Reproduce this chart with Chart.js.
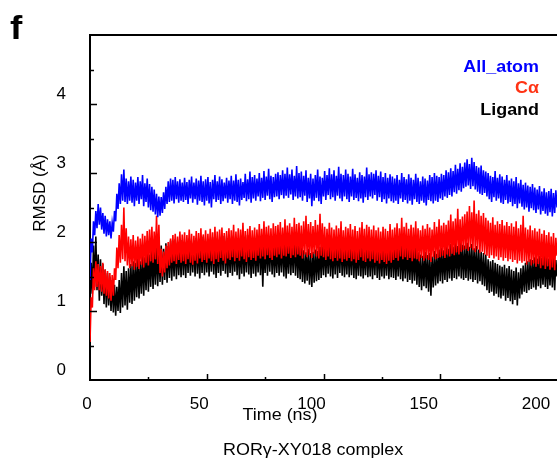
<!DOCTYPE html>
<html>
<head>
<meta charset="utf-8">
<title>RMSD - RORγ-XY018 complex</title>
<script src="https://cdn.jsdelivr.net/npm/chart.js@4/dist/chart.umd.min.js"></script>
<style>
  html, body { margin: 0; padding: 0; background: #fff; overflow: hidden; }
  canvas { display: block; }
</style>
</head>
<body>
<canvas id="rmsd" width="557" height="462"></canvas>
<script>
// one stored frame every 0.5 ns, 0 .. 200 ns
const TIME_STEP = 0.5;
const xTicks = [0, 50, 100, 150, 200];
const yTicks = [0, 1, 2, 3, 4];
const seriesNames = ["All_atom", "Cα", "Ligand"];

const allAtom = [
  1.45, 2.05, 1.85, 2.30, 2.10, 2.45, 2.20, 2.55, 2.25, 2.50, 2.18, 2.42, 2.12, 2.38, 2.08, 2.33, 2.10, 2.30, 2.05, 2.28,
  2.15, 2.45, 2.30, 2.70, 2.48, 2.85, 2.55, 2.98, 2.60, 3.05, 2.58, 2.92, 2.55, 2.88, 2.60, 2.95, 2.57, 2.90, 2.52, 2.86,
  2.60, 2.94, 2.55, 2.88, 2.62, 2.97, 2.52, 2.85, 2.58, 2.92, 2.50, 2.84, 2.46, 2.80, 2.44, 2.76, 2.40, 2.70, 2.36, 2.66,
  2.38, 2.65, 2.42, 2.72, 2.48, 2.80, 2.55, 2.88, 2.58, 2.92, 2.60, 2.90, 2.56, 2.94, 2.62, 2.88, 2.57, 2.91, 2.60, 2.86,
  2.58, 2.93, 2.61, 2.87, 2.55, 2.90, 2.63, 2.95, 2.57, 2.86, 2.62, 2.92, 2.54, 2.89, 2.60, 2.96, 2.58, 2.88, 2.53, 2.91,
  2.60, 2.94, 2.56, 2.87, 2.50, 2.90, 2.62, 2.97, 2.58, 2.88, 2.61, 2.95, 2.55, 2.91, 2.59, 2.86, 2.63, 2.93, 2.57, 2.89,
  2.62, 2.96, 2.55, 2.89, 2.60, 2.98, 2.58, 2.90, 2.53, 2.92, 2.61, 2.87, 2.64, 2.99, 2.59, 2.91, 2.62, 3.02, 2.57, 2.94,
  2.63, 2.97, 2.60, 2.92, 2.66, 3.00, 2.59, 2.93, 2.64, 3.03, 2.61, 2.95, 2.67, 3.06, 2.62, 2.96, 2.58, 2.94, 2.65, 2.99,
  2.66, 3.01, 2.62, 2.97, 2.68, 3.04, 2.63, 2.99, 2.67, 3.08, 2.64, 2.98, 2.69, 3.05, 2.61, 2.96, 2.66, 3.10, 2.63, 3.00,
  2.65, 3.02, 2.60, 2.96, 2.67, 3.04, 2.58, 2.93, 2.63, 2.99, 2.52, 2.92, 2.60, 2.97, 2.64, 3.05, 2.59, 2.95, 2.55, 2.93,
  2.66, 3.03, 2.61, 2.97, 2.68, 3.07, 2.62, 2.98, 2.65, 3.04, 2.60, 2.96, 2.67, 3.09, 2.63, 2.99, 2.59, 2.97, 2.66, 3.05,
  2.62, 2.99, 2.58, 2.95, 2.66, 3.06, 2.61, 2.98, 2.64, 2.93, 2.59, 3.01, 2.63, 2.97, 2.57, 2.95, 2.65, 3.08, 2.61, 2.98,
  2.66, 3.01, 2.63, 2.99, 2.68, 3.04, 2.60, 2.96, 2.65, 3.02, 2.58, 2.94, 2.62, 3.00, 2.56, 2.93, 2.63, 2.98, 2.59, 2.95,
  2.57, 2.92, 2.60, 2.97, 2.55, 2.90, 2.63, 3.00, 2.58, 2.94, 2.61, 2.91, 2.56, 2.98, 2.60, 2.93, 2.54, 2.90, 2.62, 2.99,
  2.58, 2.93, 2.55, 2.88, 2.60, 2.95, 2.57, 2.92, 2.53, 2.89, 2.61, 2.97, 2.59, 2.94, 2.56, 3.00, 2.60, 2.96, 2.58, 2.94,
  2.63, 2.99, 2.61, 2.97, 2.66, 3.04, 2.64, 3.01, 2.68, 3.07, 2.66, 3.03, 2.72, 3.12, 2.70, 3.06, 2.75, 3.14, 2.73, 3.09,
  2.78, 3.15, 2.80, 3.20, 2.82, 3.13, 2.77, 3.22, 2.81, 3.16, 2.76, 3.10, 2.73, 3.08, 2.70, 3.11, 2.68, 3.04, 2.71, 3.02,
  2.66, 3.00, 2.62, 2.96, 2.58, 2.94, 2.65, 3.03, 2.60, 2.93, 2.63, 2.98, 2.57, 2.95, 2.55, 2.90, 2.61, 2.97, 2.56, 2.89,
  2.58, 2.92, 2.52, 2.88, 2.55, 2.94, 2.49, 2.85, 2.56, 2.90, 2.51, 2.83, 2.47, 2.86, 2.50, 2.82, 2.44, 2.80, 2.49, 2.84,
  2.46, 2.79, 2.42, 2.76, 2.47, 2.81, 2.40, 2.73, 2.45, 2.78, 2.41, 2.72, 2.38, 2.74, 2.43, 2.77, 2.37, 2.71, 2.42, 2.75,
  2.50
];

const calpha = [
  0.55, 1.20, 1.05, 1.62, 1.30, 1.72, 1.35, 1.68, 1.30, 1.65, 1.28, 1.70, 1.25, 1.60, 1.22, 1.58, 1.18, 1.55, 1.15, 1.52,
  1.22, 1.62, 1.45, 1.92, 1.62, 2.10, 1.70, 2.25, 1.75, 2.50, 1.72, 2.20, 1.66, 2.08, 1.62, 2.04, 1.65, 2.10, 1.60, 2.02,
  1.64, 2.08, 1.61, 2.05, 1.67, 2.12, 1.63, 2.09, 1.70, 2.16, 1.66, 2.18, 1.72, 2.22, 1.70, 2.15, 1.75, 2.38, 1.68, 2.25,
  1.55, 1.90, 1.50, 1.86, 1.56, 1.95, 1.62, 2.00, 1.66, 2.05, 1.70, 2.10, 1.72, 2.12, 1.68, 2.08, 1.74, 2.15, 1.70, 2.11,
  1.72, 2.14, 1.68, 2.10, 1.75, 2.18, 1.70, 2.12, 1.67, 2.09, 1.73, 2.16, 1.69, 2.13, 1.76, 2.20, 1.71, 2.11, 1.74, 2.17,
  1.70, 2.12, 1.76, 2.19, 1.72, 2.14, 1.68, 2.22, 1.75, 2.15, 1.71, 2.18, 1.77, 2.21, 1.73, 2.13, 1.69, 2.16, 1.76, 2.20,
  1.74, 2.17, 1.78, 2.25, 1.72, 2.15, 1.77, 2.20, 1.73, 2.18, 1.79, 2.28, 1.75, 2.16, 1.71, 2.19, 1.78, 2.23, 1.74, 2.17,
  1.77, 2.21, 1.73, 2.18, 1.80, 2.26, 1.76, 2.19, 1.79, 2.30, 1.75, 2.22, 1.81, 2.24, 1.77, 2.20, 1.74, 2.27, 1.80, 2.23,
  1.78, 2.25, 1.82, 2.29, 1.76, 2.21, 1.80, 2.33, 1.79, 2.24, 1.83, 2.27, 1.77, 2.22, 1.81, 2.35, 1.78, 2.26, 1.82, 2.28,
  1.80, 2.24, 1.76, 2.30, 1.82, 2.38, 1.78, 2.26, 1.81, 2.29, 1.77, 2.23, 1.83, 2.32, 1.79, 2.25, 1.76, 2.41, 1.80, 2.27,
  1.78, 2.22, 1.74, 2.19, 1.79, 2.28, 1.75, 2.21, 1.72, 2.18, 1.77, 2.24, 1.73, 2.20, 1.76, 2.30, 1.71, 2.17, 1.75, 2.22,
  1.73, 2.20, 1.77, 2.26, 1.72, 2.18, 1.75, 2.23, 1.70, 2.16, 1.74, 2.21, 1.78, 2.29, 1.73, 2.19, 1.71, 2.25, 1.76, 2.22,
  1.72, 2.18, 1.75, 2.24, 1.70, 2.17, 1.73, 2.21, 1.69, 2.15, 1.74, 2.22, 1.71, 2.19, 1.68, 2.16, 1.73, 2.26, 1.70, 2.18,
  1.74, 2.21, 1.77, 2.27, 1.73, 2.20, 1.79, 2.35, 1.75, 2.22, 1.78, 2.28, 1.74, 2.19, 1.77, 2.25, 1.72, 2.21, 1.76, 2.30,
  1.75, 2.20, 1.72, 2.17, 1.77, 2.24, 1.73, 2.19, 1.76, 2.26, 1.74, 2.21, 1.71, 2.18, 1.78, 2.29, 1.75, 2.22, 1.77, 2.33,
  1.78, 2.24, 1.80, 2.28, 1.77, 2.25, 1.82, 2.31, 1.79, 2.40, 1.83, 2.30, 1.81, 2.34, 1.85, 2.48, 1.82, 2.33, 1.86, 2.37,
  1.88, 2.40, 1.90, 2.44, 1.87, 2.52, 1.91, 2.43, 1.88, 2.60, 1.85, 2.41, 1.89, 2.46, 1.84, 2.38, 1.86, 2.42, 1.82, 2.35,
  1.80, 2.31, 1.77, 2.28, 1.81, 2.36, 1.76, 2.25, 1.79, 2.30, 1.74, 2.26, 1.78, 2.32, 1.73, 2.24, 1.77, 2.29, 1.72, 2.23,
  1.75, 2.27, 1.71, 2.22, 1.74, 2.30, 1.69, 2.20, 1.73, 2.25, 1.70, 2.38, 1.72, 2.21, 1.67, 2.18, 1.71, 2.24, 1.66, 2.17,
  1.69, 2.20, 1.64, 2.15, 1.68, 2.19, 1.62, 2.12, 1.66, 2.17, 1.61, 2.10, 1.65, 2.14, 1.60, 2.08, 1.63, 2.13, 1.59, 2.06,
  1.80
];

const ligand = [
  1.05, 1.70, 1.25, 1.95, 1.35, 2.08, 1.30, 1.82, 1.15, 1.75, 1.22, 1.68, 1.10, 1.60, 1.05, 1.55, 1.08, 1.50, 1.00, 1.45,
  0.98, 1.38, 0.93, 1.35, 1.00, 1.45, 0.97, 1.55, 1.05, 1.65, 1.08, 1.58, 1.02, 1.62, 1.12, 1.68, 1.10, 1.72, 1.15, 1.70,
  1.20, 1.76, 1.18, 1.72, 1.25, 1.80, 1.22, 1.78, 1.30, 1.85, 1.28, 1.82, 1.35, 1.90, 1.32, 1.86, 1.38, 1.93, 1.36, 1.88,
  1.42, 1.95, 1.38, 1.90, 1.45, 1.98, 1.41, 1.94, 1.48, 2.02, 1.44, 1.97, 1.50, 2.04, 1.46, 1.99, 1.52, 1.96, 1.49, 2.03,
  1.52, 2.00, 1.48, 1.97, 1.55, 2.05, 1.51, 1.99, 1.56, 2.02, 1.50, 2.06, 1.54, 1.98, 1.47, 2.01, 1.55, 2.08, 1.52, 2.00,
  1.56, 2.03, 1.50, 1.98, 1.57, 2.07, 1.53, 2.01, 1.48, 1.96, 1.55, 2.04, 1.51, 2.00, 1.58, 2.09, 1.54, 2.02, 1.49, 1.99,
  1.55, 2.04, 1.51, 1.99, 1.57, 2.06, 1.52, 2.01, 1.46, 1.97, 1.54, 2.05, 1.50, 2.00, 1.56, 2.10, 1.53, 2.03, 1.48, 1.98,
  1.54, 2.05, 1.50, 1.97, 1.56, 2.08, 1.52, 2.02, 1.35, 1.96, 1.55, 2.04, 1.51, 1.99, 1.57, 2.07, 1.53, 2.01, 1.49, 1.98,
  1.55, 2.03, 1.51, 1.98, 1.56, 2.06, 1.50, 2.00, 1.47, 1.96, 1.54, 2.05, 1.52, 1.99, 1.55, 2.08, 1.51, 2.02, 1.48, 1.97,
  1.46, 1.92, 1.42, 1.88, 1.40, 1.85, 1.44, 1.90, 1.38, 1.84, 1.35, 1.86, 1.41, 1.89, 1.43, 1.87, 1.45, 1.93, 1.48, 1.95,
  1.52, 2.00, 1.49, 1.97, 1.54, 2.03, 1.50, 1.98, 1.47, 1.99, 1.53, 2.04, 1.48, 1.96, 1.55, 2.06, 1.51, 2.00, 1.49, 1.98,
  1.53, 2.02, 1.49, 1.97, 1.52, 2.05, 1.48, 1.99, 1.46, 1.95, 1.51, 2.03, 1.50, 1.98, 1.47, 1.94, 1.52, 2.01, 1.49, 1.97,
  1.50, 1.99, 1.46, 1.96, 1.52, 2.04, 1.48, 1.97, 1.45, 1.94, 1.50, 2.00, 1.47, 1.95, 1.51, 2.02, 1.46, 1.93, 1.49, 1.98,
  1.48, 1.96, 1.45, 1.93, 1.50, 2.01, 1.46, 1.95, 1.43, 1.91, 1.47, 1.97, 1.42, 1.89, 1.45, 1.94, 1.40, 1.90, 1.44, 1.92,
  1.38, 1.85, 1.35, 1.82, 1.30, 1.80, 1.36, 1.86, 1.33, 1.81, 1.28, 1.84, 1.22, 1.79, 1.34, 1.87, 1.37, 1.83, 1.40, 1.89,
  1.43, 1.92, 1.40, 1.88, 1.45, 1.95, 1.42, 1.90, 1.47, 1.97, 1.44, 1.93, 1.48, 2.00, 1.46, 1.94, 1.50, 2.02, 1.47, 1.96,
  1.45, 1.95, 1.48, 1.99, 1.44, 1.93, 1.46, 1.97, 1.42, 1.91, 1.45, 1.94, 1.40, 1.89, 1.43, 1.86, 1.38, 1.84, 1.36, 1.82,
  1.30, 1.75, 1.26, 1.72, 1.28, 1.74, 1.22, 1.70, 1.25, 1.68, 1.20, 1.66, 1.18, 1.64, 1.22, 1.67, 1.15, 1.62, 1.19, 1.65,
  1.14, 1.60, 1.10, 1.58, 1.16, 1.63, 1.08, 1.56, 1.18, 1.62, 1.24, 1.66, 1.28, 1.70, 1.26, 1.72, 1.30, 1.75, 1.32, 1.74,
  1.34, 1.78, 1.31, 1.76, 1.36, 1.80, 1.33, 1.77, 1.38, 1.82, 1.35, 1.79, 1.32, 1.76, 1.37, 1.81, 1.34, 1.78, 1.30, 1.74,
  1.50
];

const FONT = 'Arial, "Liberation Sans", sans-serif';
// the source figure was widened a little, its lettering with it
const STRETCH = 1.12;

const colors = {
  allAtom: "#0000ff",
  calpha: "#ff0000",
  calphaText: "#ff3314",
  ligand: "#000000"
};

const toPoints = (values) => values.map((y, i) => ({ x: i * TIME_STEP, y }));

const zeroPadding = (scale) => {
  scale.paddingLeft = 0;
  scale.paddingRight = 0;
  scale.paddingTop = 0;
  scale.paddingBottom = 0;
};

const drawText = (ctx, str, x, y, opts) => {
  ctx.save();
  ctx.translate(x, y);
  if (opts.rotate) ctx.rotate(opts.rotate);
  ctx.scale(opts.stretch || 1, 1);
  ctx.font = opts.font;
  ctx.fillStyle = opts.color || "#000";
  ctx.textAlign = opts.align || "left";
  ctx.textBaseline = "alphabetic";
  ctx.fillText(str, 0, 0);
  ctx.restore();
};

// frame top line, inward tick marks and all the lettering
const decor = {
  id: "decor",
  afterDraw(chart) {
    const { ctx, chartArea: area, scales } = chart;
    const xs = scales.x;
    const ys = scales.y;

    ctx.save();
    ctx.strokeStyle = "#000";
    ctx.lineWidth = 2;
    ctx.beginPath();
    ctx.moveTo(area.left - 1, area.top);
    ctx.lineTo(area.right, area.top);
    ctx.stroke();

    ctx.lineWidth = 1.5;
    ctx.beginPath();
    for (let v = xs.min + 25; v < xs.max; v += 25) {
      const px = Math.round(xs.getPixelForValue(v)) + 0.5;
      const len = v % 50 === 0 ? 6 : 3;
      ctx.moveTo(px, area.bottom);
      ctx.lineTo(px, area.bottom - len);
    }
    for (let v = ys.min + 0.5; v < ys.max; v += 0.5) {
      const py = Math.round(ys.getPixelForValue(v)) + 0.5;
      const len = Number.isInteger(v) ? 7 : 4;
      ctx.moveTo(area.left, py);
      ctx.lineTo(area.left + len, py);
    }
    ctx.stroke();
    ctx.restore();

    drawText(ctx, "f", 10, 39, { font: `bold 33px ${FONT}`, stretch: STRETCH });
    drawText(ctx, "RMSD (Å)", 45, 193, { font: `17px ${FONT}`, align: "center", rotate: -Math.PI / 2 });
    drawText(ctx, "Time (ns)", 280, 420, { font: `16px ${FONT}`, align: "center", stretch: STRETCH });
    drawText(ctx, "RORγ-XY018 complex", 223, 455, { font: `16px ${FONT}`, stretch: STRETCH });

    const legendColors = [colors.allAtom, colors.calphaText, colors.ligand];
    const legendBase = [71.5, 93, 114.5];
    seriesNames.forEach((name, i) => {
      drawText(ctx, name, 539, legendBase[i], {
        font: `bold 16px ${FONT}`,
        align: "right",
        color: legendColors[i],
        stretch: STRETCH
      });
    });
  }
};

const lineSet = (label, values, color, order) => ({
  label,
  data: toPoints(values),
  borderColor: color,
  backgroundColor: color,
  borderWidth: 1.6,
  pointRadius: 0,
  tension: 0,
  fill: false,
  order,
  xAxisID: "x",
  yAxisID: "y"
});

Chart.defaults.color = "#000";
Chart.defaults.font.family = FONT;

// lower order is painted last: blue over red over black
new Chart(document.getElementById("rmsd"), {
  type: "line",
  data: {
    datasets: [
      lineSet(seriesNames[0], allAtom, colors.allAtom, 0),
      lineSet(seriesNames[1], calpha, colors.calpha, 1),
      lineSet(seriesNames[2], ligand, colors.ligand, 2)
    ]
  },
  options: {
    responsive: false,
    animation: false,
    events: [],
    layout: { padding: { top: 35, right: 0, bottom: 0, left: 0 } },
    plugins: {
      legend: { display: false },
      tooltip: { enabled: false }
    },
    scales: {
      x: {
        type: "linear",
        position: "bottom",
        weight: 0,
        min: 0,
        max: 200,
        grid: { display: false, drawTicks: false },
        border: { display: true, color: "#000", width: 2 },
        ticks: { display: false, stepSize: 50 },
        afterFit: (scale) => {
          scale.height = 0;
          zeroPadding(scale);
        }
      },
      // the printed tick numbers sit slightly off the tick marks in the source
      xLabels: {
        type: "linear",
        axis: "x",
        position: "bottom",
        weight: 1,
        min: 1.336,
        max: 209.35,
        grid: { display: false, drawTicks: false },
        border: { display: false },
        ticks: {
          autoSkip: false,
          maxRotation: 0,
          padding: 14,
          font: { size: 17 },
          callback: (v) => String(v)
        },
        afterBuildTicks: (scale) => {
          scale.ticks = xTicks.map((value) => ({ value }));
        },
        afterFit: (scale) => {
          scale.height = 82;
          zeroPadding(scale);
        }
      },
      y: {
        type: "linear",
        position: "left",
        min: 0,
        max: 5,
        grid: { display: false, drawTicks: false },
        border: { display: true, color: "#000", width: 2 },
        ticks: {
          padding: 24,
          labelOffset: -10,
          font: { size: 17 },
          callback: (v) => String(v)
        },
        afterBuildTicks: (scale) => {
          scale.ticks = yTicks.map((value) => ({ value }));
        },
        afterFit: (scale) => {
          scale.width = 90;
          zeroPadding(scale);
        }
      }
    }
  },
  plugins: [decor]
});
</script>
</body>
</html>
